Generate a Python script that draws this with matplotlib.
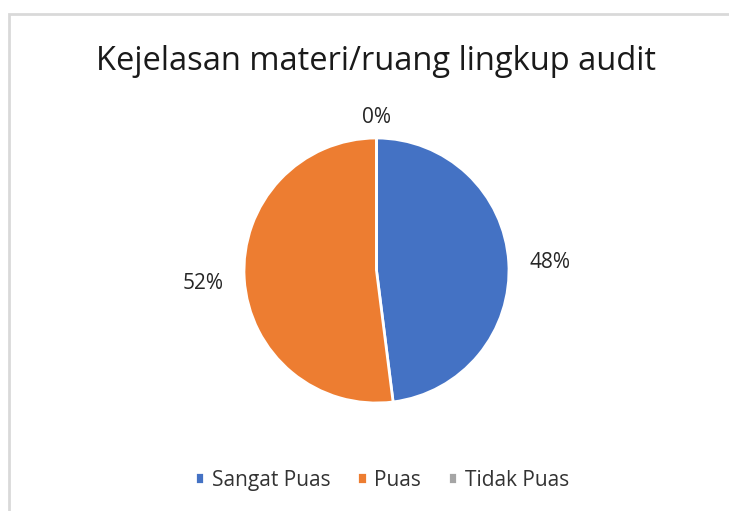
import matplotlib.pyplot as plt
from matplotlib.patches import Rectangle
import numpy as np

plt.rcParams['font.family'] = ['Open Sans', 'DejaVu Sans']

title = 'Kejelasan materi/ruang lingkup audit'
categories = ['Sangat Puas', 'Puas', 'Tidak Puas']
counts = [12, 13, 0]
colors = ['#4472C4', '#ED7D31', '#A5A5A5']

fig = plt.figure(figsize=(7.29, 5.11), dpi=100)

# chart-area frame (left and top edges visible)
fig.patches.append(Rectangle((9 / 729, -0.1), 1.2, (511 - 14) / 511 + 0.1,
                             transform=fig.transFigure, fill=False,
                             edgecolor='#D9D9D9', linewidth=2))

ax = fig.add_axes([0.2438, 0.0817, 0.5453, 0.7779])
wedges, texts = ax.pie(counts, colors=colors, startangle=90, counterclock=False,
                       wedgeprops=dict(edgecolor='white', linewidth=2))
ax.set_xlim(-1.5, 1.5)
ax.set_ylim(-1.5, 1.5)
ax.set_aspect('equal')
ax.axis('off')

total = sum(counts)
for w, c in zip(wedges, counts):
    ang = np.deg2rad((w.theta1 + w.theta2) / 2)
    d = 1.31 if c > 0 else 1.17
    ax.text(d * np.cos(ang), d * np.sin(ang), '%d%%' % round(100 * c / total),
            ha='center', va='center_baseline', fontsize=15, color='#262626')

fig.text(376.5 / 729, 1 - 62 / 511, title, ha='center', va='center',
         fontsize=23.5, color='#1a1a1a')

fig.legend(wedges, categories, loc='center', bbox_to_anchor=(382 / 729, 31 / 511),
           ncol=3, frameon=False, fontsize=15, labelcolor='#333333',
           handlelength=0.45, handleheight=0.45, handletextpad=0.35,
           columnspacing=1.3)

fig.savefig('out.png', dpi=100)
